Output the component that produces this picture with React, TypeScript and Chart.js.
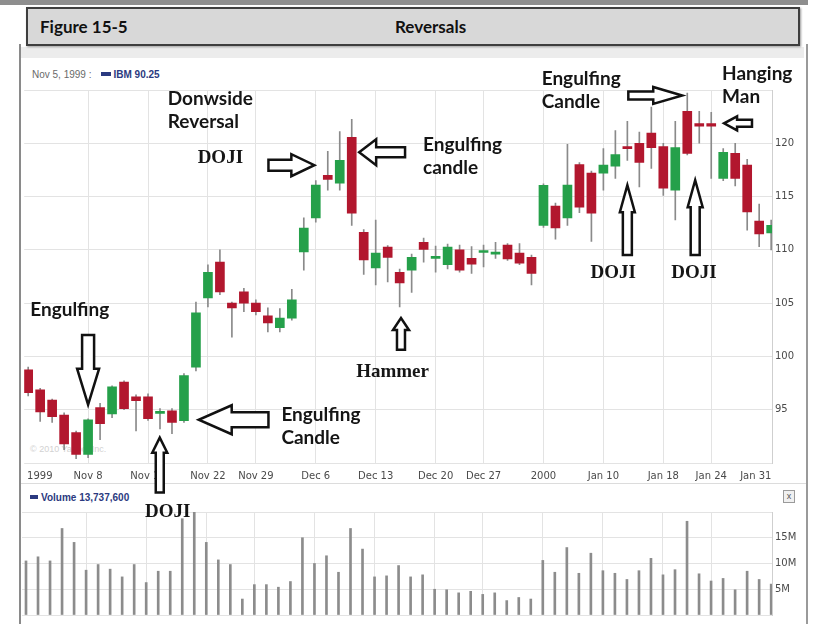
import React, { useEffect, useRef } from 'react';
import { Chart, registerables } from 'chart.js';

Chart.register(...registerables);

// ---- data ----
const DATES = [
  'Nov 1', 'Nov 2', 'Nov 3', 'Nov 4', 'Nov 5', 'Nov 8', 'Nov 9', 'Nov 10', 'Nov 11', 'Nov 12',
  'Nov 15', 'Nov 16', 'Nov 17', 'Nov 18', 'Nov 19', 'Nov 22', 'Nov 23', 'Nov 24', 'Nov 26',
  'Nov 29', 'Nov 30', 'Dec 1', 'Dec 2', 'Dec 3', 'Dec 6', 'Dec 7', 'Dec 8', 'Dec 9', 'Dec 10',
  'Dec 13', 'Dec 14', 'Dec 15', 'Dec 16', 'Dec 17', 'Dec 20', 'Dec 21', 'Dec 22', 'Dec 23',
  'Dec 27', 'Dec 28', 'Dec 29', 'Dec 30', 'Dec 31', 'Jan 3', 'Jan 4', 'Jan 5', 'Jan 6', 'Jan 7',
  'Jan 10', 'Jan 11', 'Jan 12', 'Jan 13', 'Jan 14', 'Jan 18', 'Jan 19', 'Jan 20', 'Jan 21',
  'Jan 24', 'Jan 25', 'Jan 26', 'Jan 27', 'Jan 28', 'Jan 31',
];

const OPEN = [
  98.75, 96.87, 95.9, 94.5, 92.85, 90.8, 95.2, 94.6, 97.6, 96.2,
  96.2, 94.65, 94.9, 93.97, 99.0, 105.5, 108.85, 105.0, 106.05,
  105.0, 103.8, 102.7, 103.6, 109.8, 113.0, 117.0, 116.25, 120.55, 111.65,
  108.3, 110.25, 107.9, 108.1, 110.7, 109.2, 108.6, 110.0, 109.2,
  109.75, 109.6, 110.45, 109.7, 109.3, 112.3, 114.1, 113.0, 118.0, 117.2,
  117.2, 117.85, 119.6, 120.0, 120.95, 119.7, 115.6, 123.0, 121.85,
  121.85, 116.7, 119.05, 117.95, 112.7, 111.6,
];
const HIGH = [
  99.0, 97.0, 96.0, 94.7, 93.0, 94.15, 95.6, 97.25, 97.7, 96.4,
  96.5, 95.1, 95.1, 98.4, 105.1, 108.6, 110.0, 105.1, 106.4,
  105.3, 104.55, 104.5, 106.3, 113.0, 116.5, 119.25, 121.1, 122.25, 111.9,
  112.8, 110.4, 108.2, 109.6, 111.1, 110.35, 110.55, 110.45, 110.3,
  110.45, 110.7, 110.6, 110.6, 109.5, 116.2, 114.4, 119.9, 118.2, 117.4,
  119.5, 121.2, 122.05, 121.05, 123.4, 120.0, 122.05, 124.7, 123.0,
  122.9, 119.5, 120.0, 118.5, 114.3, 112.8,
];
const LOW = [
  96.3, 93.9, 93.8, 91.25, 90.4, 90.5, 92.2, 94.25, 95.0, 93.0,
  94.0, 93.2, 92.75, 93.8, 98.65, 104.65, 105.8, 101.8, 104.2,
  103.9, 102.3, 102.3, 103.4, 108.1, 112.6, 115.6, 115.6, 112.3, 107.7,
  106.7, 107.0, 104.65, 106.0, 108.85, 107.9, 108.2, 107.9, 107.8,
  108.4, 109.2, 109.0, 108.6, 106.7, 112.1, 111.0, 112.3, 113.5, 110.8,
  115.6, 116.7, 118.4, 115.9, 117.65, 115.1, 112.8, 118.9, 120.0,
  116.7, 116.5, 116.0, 111.85, 110.3, 110.0,
];
const CLOSE = [
  96.6, 94.8, 94.35, 91.8, 90.8, 94.05, 93.7, 97.15, 95.1, 95.85,
  94.15, 94.75, 93.8, 98.2, 104.1, 107.9, 106.05, 104.55, 105.0,
  104.2, 103.15, 103.6, 105.3, 112.05, 116.07, 116.6, 118.4, 113.45, 109.05,
  109.7, 109.3, 106.9, 109.3, 110.05, 109.3, 110.25, 108.1, 108.65,
  109.85, 109.7, 109.15, 108.75, 107.8, 116.05, 112.05, 116.07, 114.0, 113.45,
  117.95, 118.95, 119.5, 118.2, 119.6, 115.8, 119.6, 119.05, 121.6,
  121.6, 119.15, 116.7, 113.55, 111.5, 112.3,
];
// volume in millions of shares
const VOLUME_M = [
  10.5, 11.3, 10.5, 16.8, 14.1, 8.7, 9.8, 8.9, 7.4, 9.8,
  6.3, 8.5, 8.5, 18.7, 20.0, 14.1, 10.7, 9.8, 3.1,
  5.9, 5.9, 5.4, 6.5, 15.0, 10.0, 11.5, 8.3, 16.8, 12.8,
  7.4, 7.6, 9.6, 7.4, 7.8, 5.0, 4.9, 4.3, 4.6,
  4.0, 4.3, 2.8, 3.4, 3.1, 10.6, 8.3, 13.1, 8.1, 12.0,
  8.6, 8.1, 6.9, 8.6, 11.0, 7.8, 8.8, 18.2, 8.0,
  6.6, 7.1, 4.9, 8.5, 6.9, 6.0,
];

const TICK_DATES = ['Nov 1', 'Nov 8', 'Nov 15', 'Nov 22', 'Nov 29', 'Dec 6', 'Dec 13', 'Dec 20', 'Dec 27', 'Jan 3', 'Jan 10', 'Jan 18', 'Jan 24', 'Jan 31'];
const TICK_LABELS = ['1999', 'Nov 8', 'Nov 15', 'Nov 22', 'Nov 29', 'Dec 6', 'Dec 13', 'Dec 20', 'Dec 27', '2000', 'Jan 10', 'Jan 18', 'Jan 24', 'Jan 31'];
const PRICE_TICKS = [95, 100, 105, 110, 115, 120];
const VOLUME_TICKS_M = [5, 10, 15];

// annotations anchored in data space (index, price)
const NOTES = [
  { text: 'Engulfing', i: 0.17, p: 104.36, serif: false },
  { text: 'Donwside', i: 11.65, p: 124.21, serif: false },
  { text: 'Reversal', i: 11.65, p: 121.97, serif: false },
  { text: 'DOJI', i: 14.14, p: 118.6, serif: true },
  { text: 'Engulfing', i: 32.95, p: 119.81, serif: false },
  { text: 'candle', i: 32.95, p: 117.66, serif: false },
  { text: 'Hammer', i: 27.37, p: 98.56, serif: true },
  { text: 'Engulfing', i: 21.13, p: 94.53, serif: false },
  { text: 'Candle', i: 21.13, p: 92.38, serif: false },
  { text: 'Engulfing', i: 42.85, p: 126.09, serif: false },
  { text: 'Candle', i: 42.85, p: 123.93, serif: false },
  { text: 'Hanging', i: 57.9, p: 126.55, serif: false },
  { text: 'Man', i: 57.9, p: 124.4, serif: false },
  { text: 'DOJI', i: 46.92, p: 107.83, serif: true },
  { text: 'DOJI', i: 53.66, p: 107.83, serif: true },
];
const VOLUME_NOTES = [{ text: 'DOJI', i: 9.9, v: 20.0, serif: true }];
const ARROWS = [
  { i1: 5.0, p1: 102.02, i2: 5.0, p2: 95.47, sw: 6, hw: 11, hl: 36 },
  { i1: 20.05, p1: 117.94, i2: 23.88, p2: 117.94, sw: 5.5, hw: 11, hl: 23 },
  { i1: 31.45, p1: 119.16, i2: 27.62, p2: 119.16, sw: 5, hw: 13, hl: 17 },
  { i1: 31.11, p1: 100.62, i2: 31.11, p2: 103.61, sw: 4, hw: 8, hl: 12 },
  { i1: 20.05, p1: 94.06, i2: 14.23, p2: 94.06, sw: 7.5, hw: 14.5, hl: 33 },
  { i1: 10.98, p1: 87.23, i2: 10.98, p2: 92.38, sw: 4, hw: 7.5, hl: 15 },
  { i1: 50.08, p1: 124.49, i2: 54.58, p2: 124.49, sw: 4, hw: 8.5, hl: 29 },
  { i1: 60.4, p1: 121.87, i2: 58.07, p2: 121.87, sw: 3.5, hw: 7, hl: 13 },
  { i1: 50.0, p1: 109.51, i2: 50.0, p2: 116.07, sw: 4.5, hw: 7.5, hl: 27 },
  { i1: 55.66, p1: 109.51, i2: 55.66, p2: 116.54, sw: 4.5, hw: 7.5, hl: 27 },
];

// ---- styling ----
const RED = '#b2172e';
const GREEN = '#25a04a';
const WICK = '#8a8a8a';
const GRID = '#e3e3e3';
const AXIS_FONT = { family: '"DejaVu Sans", sans-serif', size: 10 };
const SANS = 'Lato, "Open Sans", sans-serif';
const SERIF = '"Liberation Serif", "DejaVu Serif", serif';
const X_MIN = -0.333;
const X_MAX = 62.07;

function drawArrow(ctx: CanvasRenderingContext2D, x1: number, y1: number, x2: number, y2: number, sw: number, hw: number, hl: number) {
  const dx = x2 - x1, dy = y2 - y1;
  const len = Math.hypot(dx, dy) || 1;
  const ux = dx / len, uy = dy / len;
  const px = -uy, py = ux;
  const bx = x2 - ux * hl, by = y2 - uy * hl;
  ctx.beginPath();
  ctx.moveTo(x1 + px * sw, y1 + py * sw);
  ctx.lineTo(bx + px * sw, by + py * sw);
  ctx.lineTo(bx + px * hw, by + py * hw);
  ctx.lineTo(x2, y2);
  ctx.lineTo(bx - px * hw, by - py * hw);
  ctx.lineTo(bx - px * sw, by - py * sw);
  ctx.lineTo(x1 - px * sw, y1 - py * sw);
  ctx.closePath();
  ctx.fillStyle = '#ffffff';
  ctx.fill();
  ctx.lineWidth = 2.5;
  ctx.lineJoin = 'miter';
  ctx.strokeStyle = '#111111';
  ctx.stroke();
}

function drawNote(ctx: CanvasRenderingContext2D, text: string, x: number, y: number, serif: boolean) {
  ctx.font = serif ? `bold 19px ${SERIF}` : `bold 19px ${SANS}`;
  ctx.textAlign = 'left';
  ctx.textBaseline = 'middle';
  ctx.fillStyle = '#151515';
  ctx.fillText(text, x, y);
}

const tickIndex = (d: string) => {
  const idx = DATES.indexOf(d);
  return Math.min(Math.max(idx, X_MIN + 1.3), X_MAX - 1.35);
};
const isEdgeTick = (n: number) => n === 0 || n === TICK_DATES.length - 1;

function xScale(showLabels: boolean): any {
  return {
    type: 'linear',
    min: X_MIN,
    max: X_MAX,
    bounds: 'data',
    offset: false,
    afterBuildTicks: (s: any) => {
      s.ticks = TICK_DATES.map((d) => ({ value: tickIndex(d) }));
    },
    afterFit: (s: any) => {
      s.height = showLabels ? 33 : 0;
    },
    ticks: {
      display: showLabels,
      autoSkip: false,
      maxRotation: 0,
      minRotation: 0,
      padding: 7,
      color: '#4a4a4a',
      font: AXIS_FONT,
      callback: (_v: any, i: number) => TICK_LABELS[i],
    },
    grid: {
      color: (c: any) => (isEdgeTick(c.index) ? 'rgba(0,0,0,0)' : GRID),
      drawTicks: false,
      offset: false,
    },
    border: { display: false },
  };
}

const annotationPlugin = {
  id: 'priceNotes',
  afterDraw(chart: any) {
    const { ctx, scales } = chart;
    const xs = scales.x, ys = scales.y;
    ctx.save();
    for (const a of ARROWS) {
      drawArrow(ctx, xs.getPixelForValue(a.i1), ys.getPixelForValue(a.p1), xs.getPixelForValue(a.i2), ys.getPixelForValue(a.p2), a.sw, a.hw, a.hl);
    }
    for (const n of NOTES) {
      drawNote(ctx, n.text, xs.getPixelForValue(n.i), ys.getPixelForValue(n.p), n.serif);
    }
    ctx.restore();
  },
};

const volumeNotePlugin = {
  id: 'volumeNotes',
  afterDraw(chart: any) {
    const { ctx, scales } = chart;
    ctx.save();
    for (const n of VOLUME_NOTES) {
      drawNote(ctx, n.text, scales.x.getPixelForValue(n.i), scales.y.getPixelForValue(n.v * 1e6), n.serif);
    }
    ctx.restore();
  },
};

export default function App() {
  const priceRef = useRef<HTMLCanvasElement>(null);
  const volRef = useRef<HTMLCanvasElement>(null);

  useEffect(() => {
    const charts: Chart[] = [];
    const colors = OPEN.map((o, i) => (CLOSE[i] >= o ? GREEN : RED));

    if (priceRef.current) {
      charts.push(
        new Chart(priceRef.current, {
          type: 'bar',
          data: {
            datasets: [
              {
                label: 'wick',
                data: LOW.map((l, i) => ({ x: i, y: [l, HIGH[i]] })) as any,
                backgroundColor: WICK,
                barThickness: 1,
                grouped: false,
                order: 2,
                clip: 0,
              } as any,
              {
                label: 'IBM',
                data: OPEN.map((o, i) => ({ x: i, y: [o, CLOSE[i]] })) as any,
                backgroundColor: colors,
                barThickness: 9,
                minBarLength: 2,
                grouped: false,
                order: 1,
                clip: 0,
              } as any,
            ],
          },
          options: {
            animation: false,
            responsive: false,
            devicePixelRatio: 1,
            events: [],
            layout: { padding: { left: 2, top: 30, right: 0, bottom: 0 } },
            plugins: { legend: { display: false }, tooltip: { enabled: false } },
            scales: {
              x: xScale(true),
              y: {
                type: 'linear',
                position: 'right',
                min: 90,
                max: 125,
                afterBuildTicks: (s: any) => {
                  s.ticks = [90, ...PRICE_TICKS, 125].map((v) => ({ value: v }));
                },
                afterFit: (s: any) => {
                  s.width = 34;
                },
                ticks: {
                  padding: 3,
                  color: '#4a4a4a',
                  font: AXIS_FONT,
                  callback: (v: any) => (PRICE_TICKS.includes(Number(v)) ? String(v) : ''),
                },
                grid: { color: GRID, drawTicks: false },
                border: { display: true, color: '#cfcfcf' },
              },
            },
          } as any,
          plugins: [annotationPlugin],
        })
      );
    }

    if (volRef.current) {
      charts.push(
        new Chart(volRef.current, {
          type: 'bar',
          data: {
            datasets: [
              {
                label: 'Volume',
                data: VOLUME_M.map((v, i) => ({ x: i, y: v * 1e6 })) as any,
                backgroundColor: '#8c8c8c',
                barThickness: 2,
                grouped: false,
                clip: 0,
              } as any,
            ],
          },
          options: {
            animation: false,
            responsive: false,
            devicePixelRatio: 1,
            events: [],
            layout: { padding: { left: 2, top: 26, right: 0, bottom: 4 } },
            plugins: { legend: { display: false }, tooltip: { enabled: false } },
            scales: {
              x: xScale(false),
              y: {
                type: 'linear',
                position: 'right',
                min: 0,
                max: 20e6,
                afterBuildTicks: (s: any) => {
                  s.ticks = [0, ...VOLUME_TICKS_M, 20].map((v) => ({ value: v * 1e6 }));
                },
                afterFit: (s: any) => {
                  s.width = 34;
                },
                ticks: {
                  padding: 3,
                  color: '#4a4a4a',
                  font: AXIS_FONT,
                  callback: (v: any) => (VOLUME_TICKS_M.includes(Number(v) / 1e6) ? `${Number(v) / 1e6}M` : ''),
                },
                grid: { color: GRID, drawTicks: false },
                border: { display: true, color: '#cfcfcf' },
              },
            },
          } as any,
          plugins: [volumeNotePlugin],
        })
      );
    }

    return () => charts.forEach((c) => c.destroy());
  }, []);

  const abs = (s: React.CSSProperties): React.CSSProperties => ({ position: 'absolute', ...s });

  return (
    <div style={{ position: 'absolute', left: 0, top: 0, width: 819, height: 624, background: '#ffffff', overflow: 'hidden', fontFamily: '"Liberation Sans", Arial, sans-serif' }}>
      {/* top band */}
      <div style={abs({ left: 0, top: 0, width: 808, height: 5, background: '#8e8e8e' })} />
      {/* outer frame */}
      <div style={abs({ left: 19, top: 44, width: 785, height: 600, borderLeft: '2px solid #8a8a8a', borderRight: '2px solid #9a9a9a' })} />
      <div style={abs({ left: 21, top: 47, width: 783, height: 11, background: '#ececec' })} />
      {/* title box */}
      <div style={abs({ left: 26, top: 7, width: 770, height: 35, background: '#d8d8d8', border: '2px solid #3e3e3e', boxShadow: '1px 1px 2px #999' })}>
        <div style={abs({ left: 12, top: 8, fontFamily: SANS, fontWeight: 700, fontSize: 17, color: '#111', lineHeight: '20px' })}>Figure 15-5</div>
        <div style={abs({ left: 367, top: 8, fontFamily: SANS, fontWeight: 700, fontSize: 17, color: '#111', lineHeight: '20px' })}>Reversals</div>
      </div>
      {/* price header */}
      <div style={abs({ left: 32, top: 69, fontSize: 10, lineHeight: '12px', color: '#6a6a6a', whiteSpace: 'nowrap' })}>
        Nov 5, 1999 :
        <span style={{ display: 'inline-block', width: 10, height: 4, background: '#2b3a80', margin: '0 2px 2px 10px' }} />
        <span style={{ color: '#2b3a80', fontWeight: 700 }}>IBM 90.25</span>
      </div>
      <div style={abs({ left: 30, top: 444, fontSize: 9, lineHeight: '11px', color: '#d2d2d2' })}>© 2010 Yahoo! Inc.</div>
      {/* axis strip bottom line */}
      <div style={abs({ left: 21, top: 483, width: 785, height: 1, background: '#dcdcdc' })} />
      {/* volume header */}
      <div style={abs({ left: 30, top: 492, fontSize: 10, lineHeight: '12px', color: '#2b3a80', fontWeight: 700, whiteSpace: 'nowrap' })}>
        <span style={{ display: 'inline-block', width: 8, height: 4, background: '#2b3a80', margin: '0 3px 2px 0' }} />
        Volume 13,737,600
      </div>
      <div style={abs({ left: 783, top: 490, width: 10, height: 11, border: '1px solid #9a9a9a', background: '#f0f0f0', fontSize: 9, lineHeight: '10px', textAlign: 'center', color: '#555' })}>x</div>
      <canvas ref={priceRef} width={786} height={436} style={abs({ left: 20, top: 60 })} />
      <canvas ref={volRef} width={786} height={138} style={abs({ left: 20, top: 486 })} />
    </div>
  );
}
